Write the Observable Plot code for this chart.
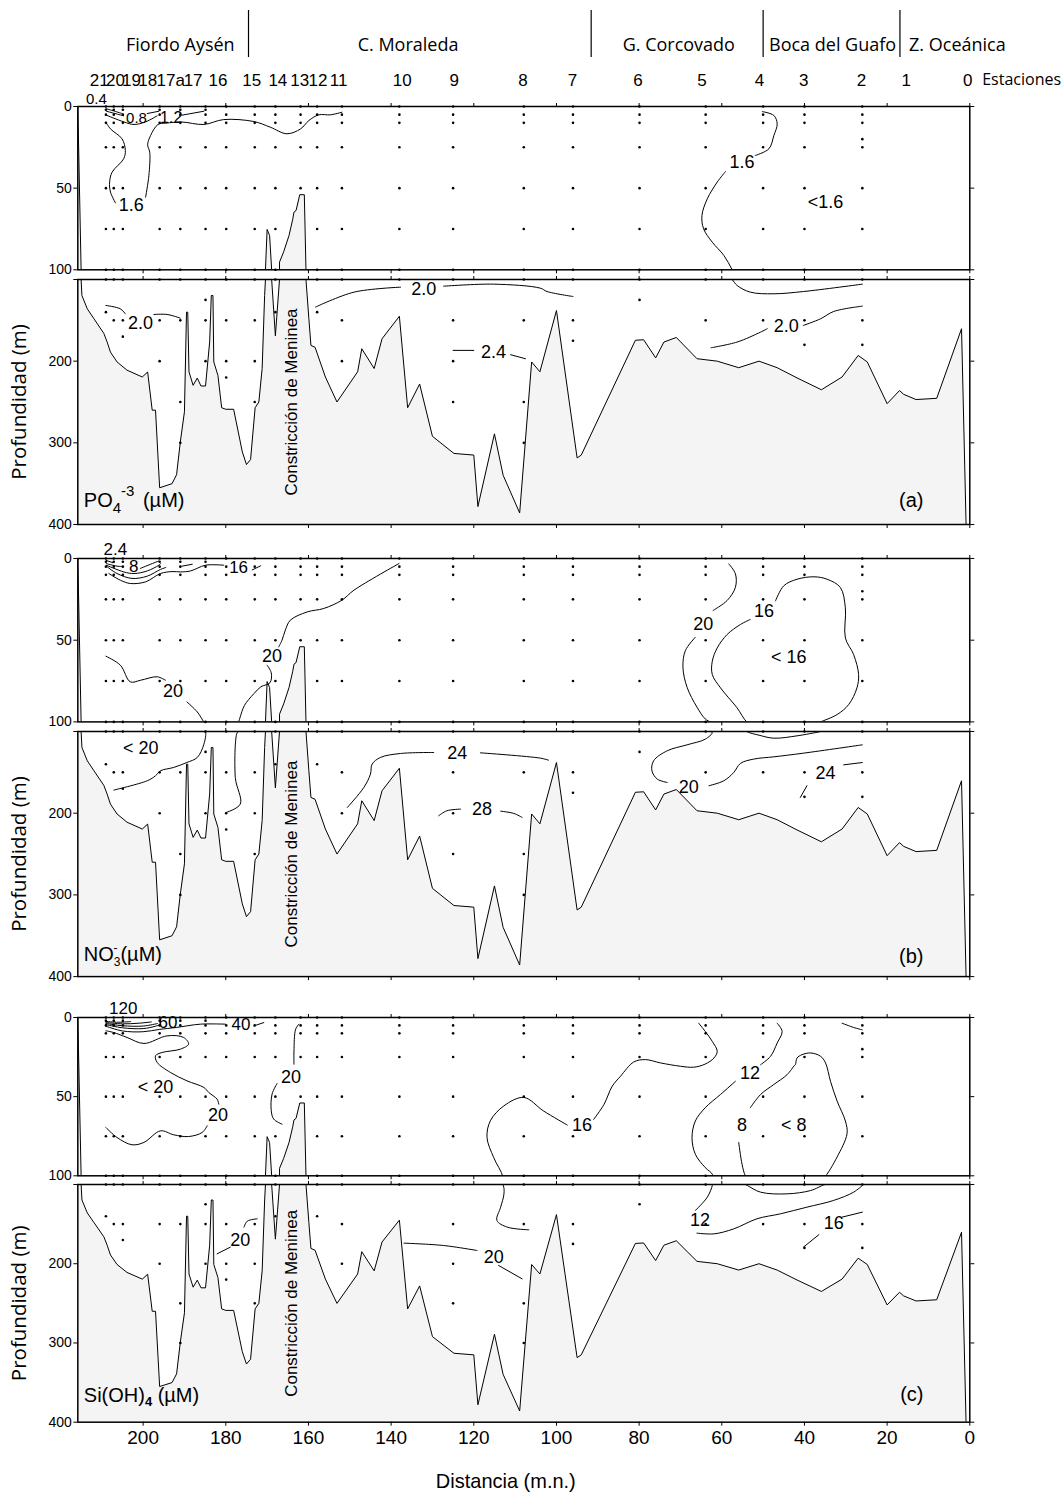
<!DOCTYPE html>
<html><head><meta charset="utf-8">
<script src="https://cdn.jsdelivr.net/npm/d3@7"></script>
<script src="https://cdn.jsdelivr.net/npm/@observablehq/plot@0.6"></script>
<style>
body{margin:0;background:#fff;}
#fig{position:relative;width:1064px;height:1497px;overflow:hidden;background:#fff;}
#fig svg{position:absolute;left:0;}
</style></head><body><div id="fig"></div>
<script>
// ---------------- DATA ----------------
const xTicks = [0,20,40,60,80,100,120,140,160,180,200];
const regionNames = ["Fiordo Aysén","C. Moraleda","G. Corcovado","Boca del Guafo","Z. Oceánica"];
const regionCenter = [191.0,135.9,70.4,33.2,3.0];
const regionBounds = [174.5,91.6,50.0,16.9];

const stationNames = ["21","20","19","18","17a","17","16","15","14","13","12","11","10","9","8","7","6","5","4","3","2","1","0"];
const stationDist = [209.0,207.1,204.9,196.0,191.0,184.9,179.9,173.0,168.0,161.9,157.9,151.9,138.0,125.0,107.9,96.0,79.9,63.9,50.0,40.0,26.0,15.4,0.5];
const stationLabelDist = [210.6,206.7,202.8,198.9,193.3,187.9,181.9,173.7,167.4,162.1,157.7,152.7,137.3,124.7,108.1,96.1,80.3,64.8,50.9,40.2,26.2,15.4,0.5];
const stationDepths = [
 [0,2,5,10,25,50,75,100,140],
 [0,2,5,10,25,50,75,100,150],
 [0,2,5,10,25,50,75,100,150,170],
 [0,2,5,10,25,50,75,100,150,200],
 [0,2,5,10,25,50,75,100,150,250,300],
 [0,2,5,10,25,50,75,100,125,150,200],
 [0,5,10,25,50,75,100,150,200,220],
 [0,5,10,25,50,75,100,150,200,250],
 [0,5,10,25,50,75,100,140],
 [0,5,10,25,50],
 [0,5,10,25,50,75,100,140],
 [0,5,10,25,50,75,100,150,200],
 [0,5,10,25,50,75,100],
 [0,5,10,25,50,75,100,150,200,250],
 [0,5,10,25,50,75,100,150,250,300],
 [0,5,10,25,50,75,100,150,175],
 [0,5,10,25,50,75,100,125],
 [0,5,10,25,50,75,100,150],
 [0,5,10,25,50,75,100,150],
 [0,5,10,25,50,75,100,150,180],
 [0,5,10,20,25,50,75,100,150,180],
 [],[]
];

// bottom profile: [distance (m.n.), depth (m)]
const bathymetry = [[215.8,0],[215.0,100],[214.8,119.6],[213.5,135.9],[211.9,148],[209.5,166],[208.7,176.6],[207.9,188.9],[206.3,201],[203.9,211],[200.2,219.4],[198.9,213.3],[197.8,260],[197.0,260],[196.0,355],[193.0,350],[191.9,339],[191.0,299],[190.0,262],[189.5,140],[189.2,140],[188.9,213],[187.9,229.6],[186.9,220.7],[186.0,230.4],[184.9,230.4],[183.9,176.6],[183.5,119.6],[183.1,119.6],[182.9,201],[181.9,217.4],[181.0,257],[180.0,258.9],[178.1,258.9],[176.0,311],[175.0,326.6],[174.0,320.5],[172.9,257],[172.0,250],[171.2,209],[170.6,119.6],[170.4,100],[170.0,75.3],[169.4,79],[168.9,100],[168.0,169],[167.0,100],[167.0,95.3],[166.0,89],[164.7,79],[163.8,69],[163.5,64.7],[163.0,63.7],[162.1,54],[161.0,54],[160.6,100],[159.9,148],[159.4,180.7],[158.4,183],[155.9,219.4],[153.1,250],[148.1,213],[147.1,184.8],[144.1,209],[142.2,172.6],[138.0,145],[136.0,257],[133.1,228],[130.0,292],[124.8,313],[120.0,315],[119.0,378],[115.0,289],[112.9,339.7],[108.9,385.8],[106.0,201],[104.0,213],[100.0,138],[95.0,318.5],[94.0,315],[80.9,174.4],[78.9,173.8],[76.0,196],[74.0,176.6],[71.0,171],[66.0,197],[61.1,200],[55.9,208],[51.0,200],[46.6,208],[41.8,220.5],[35.9,235],[30.9,219.4],[27.0,193],[24.8,201],[20.0,252],[17.0,236],[16.0,240.6],[13.0,247],[8.0,245.5],[2.0,160.3],[0.9,400]];

// (a) PO4 isolines (segments) and labels
const po4Lines = [
 [[208.9,1.4],[207,2.8],[205.1,4.3]],
 [[208.9,2.9],[206.8,4.3],[204.7,5.7]],
 [[199,4.3],[196.2,2.9]],
 [[208.9,5.3],[204.7,9.4],[202.2,11.0],[199.4,9.4],[196.6,5.7]],
 [[190.6,5.3],[185.3,2.9]],
 [[151.9,3.5],[154.7,5.1],[157.5,5.1],[159.9,8.6],[161.9,13.7],[165.2,16.7],[169.2,12.7],[173.2,9.2],[180.5,8.0],[185.3,11.0],[190.7,9.5],[194.5,10.2],[196.4,11],[198.2,17.8],[198.9,23.5],[198.4,28],[198.6,42.2],[199.4,55.5]],
 [[206.7,59],[207.9,52.4],[208.1,46.3],[207.5,40.2],[204.7,32],[204.3,26.9],[205.1,19.8],[207.9,13.7],[209,9.6]],
 [[50.2,3.1],[47.4,5.5],[46.6,10.6],[47.4,17.8],[48.6,25.9],[51.9,30]],
 [[59.1,39.8],[61.1,46.3],[63.5,56.5],[64.8,66.7],[64.4,74.9],[62.3,83.1],[59.5,91.2],[57.5,100],[56.3,107.3],[53.1,115.5],[47.4,117.5],[40.2,114.7],[26.0,105.7]],
 [[209,131.8],[205.5,135.9],[204.3,142]],
 [[197.4,142.8],[194.2,142.8],[191,147.3]],
 [[158.3,133.8],[149,115.5],[137.7,109.4]],
 [[127.3,108.2],[115.2,105.7],[103.9,110.6],[102.3,114.7],[96,120.8]],
 [[62.6,183.6],[56.3,176.6],[50.6,164.4],[49,160.3]],
 [[40.3,156.3],[36.1,148.1],[32.9,139.1],[26,132.6]],
 [[125,186.8],[120,186.8]],
 [[111.1,192.1],[107.5,197]]
];
const po4Labels = [
 [211.3,-4.3,"0.4",15],[201.6,6.9,"0.8",15],[193.2,6.9,"1.2",16],
 [202.9,60.6,"1.6",18],[55.1,34.1,"1.6",18],[34.9,58.6,"<1.6",18],
 [200.6,153.4,"2.0",18],[132.1,112.2,"2.0",18],[44.4,157.1,"2.0",18],[115.2,188.9,"2.4",18]
];

// (b) NO3 isolines and labels
const no3Lines = [
 [[208.9,1.2],[207.3,2.6]],
 [[208.9,3.1],[206.3,4.7],[204.7,4.9]],
 [[200.7,6.1],[197.4,2.7],[196.2,1.5]],
 [[208.9,4.1],[204.7,8.2],[202.2,9.2],[199,7.6],[196.2,4.1],[195.8,3.1]],
 [[208.9,4.7],[206.3,9.2],[202.7,12.2],[199,10.8],[195.8,6.7],[194.5,5.5]],
 [[190.6,4.7],[188.1,3.5]],
 [[208.3,9.2],[205.5,13.3],[203.1,15.3],[199.4,14.3],[195.8,9.2],[193,8],[190.9,8.2],[188.5,7.6],[184.9,4.1],[180.5,4.1]],
 [[173.6,7],[171.6,4.5]],
 [[209,59.8],[205.5,65.3],[203.1,75.5],[200.6,74.5],[196.6,72.4],[194.6,74.5]],
 [[189.4,87.8],[186.9,93.9],[185.3,100],[184.9,101],[185.3,115.5],[186.9,131.8],[189.4,137.9],[192.6,144],[195.8,148.1],[197,154.2],[199,160.3],[207.1,171.7]],
 [[138.1,3.1],[149,19.4],[151.9,25.5],[156.3,30.6],[160.3,32.7],[164.4,37.8],[165.6,43.9],[166.4,50],[167.2,54.1]],
 [[170,65.3],[169,70],[169.3,76],[171.5,78.5],[173.2,82.7],[175.5,90],[176.5,96.9],[176.9,100],[177.3,102],[177.7,156.3],[176.5,188.9],[179.9,199.1]],
 [[150.6,193],[146.6,168.5],[145,152.2],[144.6,140],[142.6,131.8],[137.7,126.9],[129.7,125.7]],
 [[118.4,126.1],[103.9,132.6],[101.9,135.1]],
 [[128.5,203.1],[126.5,197],[123.2,195]],
 [[113.5,197.5],[110.3,200.3],[108.3,205.2]],
 [[58.3,3.3],[56.7,9.4],[56.7,17.6],[58.7,25.7],[62.1,31.8]],
 [[66.4,48.2],[68.8,56.3],[69.4,66.5],[68.4,78.8],[66,91],[64,98.2],[62.7,100.2],[62.3,101.5],[64,109.4],[68.4,116.3],[73.2,123.6],[76.5,135.9],[76.9,148.1],[75.6,158.3],[73.2,162.4]],
 [[63.1,166.4],[59.5,160.3],[57.1,150.1],[55.5,139.1],[52.3,133.8],[47.4,131],[40.2,126.5],[26,116.3]],
 [[53.1,37.3],[55.5,40.4],[58.7,46.5],[61.1,54.7],[62.3,62.9],[62.3,71],[60.3,79.2],[56.3,91.4],[53.9,100.2],[51,104.5],[47.4,108.2],[41.8,105.3],[36.5,100.5],[36.1,100],[32.1,95.5],[29.3,89.4],[27.3,79.2],[26.9,71],[28.1,58.8],[30.1,48.6],[30.1,30.2],[31.3,17.8],[34.5,12.7],[37.7,11.2],[41.8,12.7],[45,16.7],[47,25.9]],
 [[41,180.7],[39.4,166.4]],
 [[30.5,140.8],[26,138]]
];
const no3Labels = [
 [206.7,-5.7,"2.4",17],[202.3,5,"8",17],[176.9,5.3,"16",17],
 [192.8,81,"20",18],[200.6,120.4,"< 20",18],[168.8,59.8,"20",18],
 [124,126.9,"24",18],[118,195,"28",18],[64.5,40,"20",18],[68,168.5,"20",18],
 [49.8,32.4,"16",18],[43.8,60.4,"< 16",18],[34.9,151,"24",18]
];

// (c) Si(OH)4 isolines and labels
const siLines = [
 [[209,2.5],[206,3],[203,2.6]],
 [[209,3.2],[205,4],[201,3.6],[198,2.8]],
 [[209,3.8],[205,5.2],[200,5.4],[196.5,3.8]],
 [[209,4.5],[205,6.5],[200,7],[197,5.5],[195.8,4.5]],
 [[209,5.5],[205,8.5],[200,9],[196,7.5],[192,6.3],[186.1,4.2],[180.1,4.2]],
 [[173.2,5.3],[170.8,3.2]],
 [[209,8.4],[207.1,9.5],[203.9,12.6],[199.8,16.4],[194.2,11.6],[190.2,12.6],[189,16.8],[191,20],[195.4,22.1],[197,24.2],[196.6,28.4],[193.4,34.7],[189.4,40],[185.3,44.2],[184.1,47.4],[182.1,51.6],[181.7,54.7]],
 [[184.5,68.4],[185.7,72.6],[189,75.2],[192.6,74.1],[195.8,71.6],[199.8,78.9],[202.7,80.4],[206.3,75.8],[209,69.5]],
 [[162.3,4.2],[163.1,7.4],[163.5,21.1],[163.5,29.5]],
 [[167.6,41.7],[168.8,48.4],[169,58.9],[168.4,64.2],[166.4,67.4]],
 [[172.4,143.3],[174.8,146.3],[175.6,153.8]],
 [[178.9,179.1],[182.1,187.5]],
 [[136.9,174],[127.3,177],[119.2,183.3]],
 [[114,202.2],[108.3,219.1]],
 [[106.7,157.2],[111.9,153.8],[114.4,145.4],[113.5,128.6],[112.7,111.8],[112.9,101],[115.2,88.4],[116.8,75.8],[116,65.3],[112.7,55.8],[107.9,50.5],[103.1,59.1],[97.4,67.9]],
 [[91,64.4],[88.5,54.9],[86.5,43.4],[84.5,37.1],[81.3,28.1],[78.5,26.6],[74.8,28.7],[70,30.8],[66.8,31.4],[64,29.4],[61.9,25.6],[61.1,21.4],[62.3,15.1],[64,8.8],[65.6,3.6]],
 [[46.6,3.6],[45.4,8.8],[46.6,16.1],[48.2,24.5],[50.6,29.8]],
 [[56.7,40.3],[60.3,48.6],[64,57],[66.4,65.4],[67.2,75.9],[66.4,86.4],[64,94.8],[62.3,99],[62.3,101.3],[63.5,116],[66.4,132.8]],
 [[66,161.4],[61.9,162.3],[57.1,156],[51.5,143.3],[45.8,137],[39.4,128.6],[33,120.2],[28.1,109.7],[26,101.3]],
 [[30.9,141.2],[26,134.9]],
 [[36.5,163.3],[40.2,178.9]],
 [[42.6,30.8],[44.2,36.1],[47.4,42.3],[50.6,48.6],[53.1,57]],
 [[55.9,79],[55.1,92.7],[54.3,100],[53.8,101.3],[50.6,109.7],[44.2,111.8],[38.5,107.6],[35.3,100.4],[34.9,100],[32.1,88.1],[29.7,73.4],[30.1,65.4],[32.1,52.8],[33.7,40.3],[34.9,28.7],[36.1,24.5],[38.5,22.4],[40.6,23.5],[41.8,25.6],[42.2,29.8],[42.6,30.8]],
 [[30.9,3.6],[28.1,6.3],[26,7.8]]
];
const siLabels = [
 [204.8,-5.5,"120",17],[194,3.2,"60",17],[176.3,4.2,"40",17],
 [181.9,61.5,"20",18],[197,43.8,"< 20",18],[164.2,37.5,"20",18],
 [176.5,170.7,"20",18],[115.2,191.7,"20",18],[93.8,67.9,"16",18],
 [53.2,35,"12",18],[65.3,145.4,"12",18],[55.1,67.9,"8",18],[42.6,67.9,"< 8",18],[32.9,148.4,"16",18]
];

const constriction = [164.1, 250, "Constricción de Meninea"];

// ---------------- LAYOUT ----------------
const W = 1064, ML = 77.3, MR = W - 969.3;
const xDom = [215.8, 0];
const ARIAL = "Liberation Sans, Arial, Helvetica, sans-serif";
const OPEN = "Open Sans, DejaVu Sans, sans-serif";
const NARROW = "Liberation Sans Narrow, Arial Narrow, Liberation Sans, sans-serif";
const fig = document.getElementById("fig");

const stationRows = stationDist.flatMap((x, i) => stationDepths[i].map(z => ({x, z})));
const lineRows = segs => segs.flatMap((s, i) => s.map(([x, y]) => ({x, y, seg: i})));

const baseStyle = {background: "none", overflow: "visible", fontFamily: ARIAL, fontSize: "14px", color: "black"};

function place(svg, top) { svg.style.top = top + "px"; fig.appendChild(svg); return svg; }

// header
place(Plot.plot({
  width: W, height: 100, marginLeft: ML, marginRight: MR, marginTop: 10, marginBottom: 43,
  x: {domain: xDom, axis: null}, style: baseStyle,
  marks: [
    Plot.ruleX(regionBounds, {stroke: "black", strokeWidth: 1.2}),
    Plot.text(regionNames, {x: (d, i) => regionCenter[i], frameAnchor: "bottom", dy: -6.8, fontSize: 18, fontFamily: OPEN}),
    Plot.text(stationNames, {x: (d, i) => stationLabelDist[i], frameAnchor: "bottom", dy: 28.2, fontSize: 17, fontFamily: NARROW}),
    Plot.text(["Estaciones"], {x: 0, frameAnchor: "bottom", dy: 27.9, dx: 12.4, textAnchor: "start", fontSize: 16, fontFamily: OPEN})
  ]
}), 0);

const panels = [
  {upper: [106, 269.3], lower: [279.3, 524.3], lines: po4Lines, labels: po4Labels,
   title: "PO4-3 (µM)", titleDy: -17.4, tag: "(a)", tagDy: -17.4,
   rich: [{t: "PO"}, {t: "4", dy: 6, fs: 15}, {t: "-3", dy: -17, fs: 15}, {t: " (µM)", dy: 11, dx: 3}]},
  {upper: [558.3, 721.7], lower: [730.7, 975.8], lines: no3Lines, labels: no3Labels,
   title: "NO3- (µM)", titleDy: -15.4, tag: "(b)", tagDy: -13.9,
   rich: [{t: "NO"}, {t: "3", dy: 5, fs: 12}, {t: "-", dy: -14, dx: -7, fs: 12}, {t: "(µM)", dy: 9, dx: 3}]},
  {upper: [1016.7, 1175], lower: [1184, 1421.7], lines: siLines, labels: siLabels, last: true,
   title: "Si(OH)4 (µM)", titleDy: -19.8, tag: "(c)", tagDy: -20.8,
   rich: [{t: "Si(OH)"}, {t: "4", dy: 4, fs: 13, fw: "bold"}, {t: " (µM)", dy: -4}]}
];

function richTitle(svg, plain, parts) {
  d3.select(svg).selectAll("text").filter(function() { return this.textContent === plain; }).each(function() {
    const t = d3.select(this);
    t.text(null);
    parts.forEach(p => {
      const s = t.append("tspan").text(p.t);
      if (p.dy) s.attr("dy", p.dy);
      if (p.dx) s.attr("dx", p.dx);
      if (p.fs) s.attr("font-size", p.fs);
      if (p.fw) s.attr("font-weight", p.fw);
    });
  });
}

function subpanel(p, part) {
  const isUp = part === "upper";
  const [ft, fb] = p[part];
  const padT = 40, padB = (p.last && !isUp) ? 90 : 40;
  const H = fb - ft + padT + padB;
  const keep = isUp ? (z => z <= 100) : (z => z >= 100);
  const dots = stationRows.filter(d => keep(d.z));
  const labs = p.labels.filter(d => isUp ? d[1] <= 100 : d[1] > 100);
  const yT = isUp ? [0, 50, 100] : [100, 200, 300, 400];
  const yL = isUp ? [0, 50, 100] : [200, 300, 400];
  const bottomLabels = p.last && !isUp;
  const marks = [
    Plot.areaY(bathymetry, {x: d => d[0], y1: d => d[1], y2: 400, fill: "#f4f4f4", clip: true}),
    Plot.line(lineRows(p.lines), {x: "x", y: "y", z: "seg", curve: "catmull-rom", stroke: "black", strokeWidth: 1, clip: true}),
    Plot.line(bathymetry, {x: d => d[0], y: d => d[1], stroke: "black", strokeWidth: 1, clip: true}),
    Plot.dot(dots, {x: "x", y: "z", r: 1.3, fill: "black"}),
    Plot.text(labs, {x: d => d[0], y: d => d[1], text: d => d[2], fontSize: d => d[3], fill: "black"}),
    Plot.axisX(xTicks, {anchor: "top", tickSize: 4, tickFormat: () => "", label: null}),
    Plot.axisX(xTicks, {anchor: "bottom", tickSize: 4, tickPadding: 4, label: null,
      tickFormat: bottomLabels ? (d => String(d)) : (() => ""), fontSize: 19}),
    Plot.axisY(yT, {anchor: "left", tickSize: 4, tickPadding: 2, label: null, fontSize: 14,
      tickFormat: d => yL.includes(d) ? String(d) : ""}),
    Plot.axisY(yT, {anchor: "right", tickSize: 4, tickFormat: () => "", label: null}),
    Plot.frame({stroke: "black", strokeWidth: 1.5})
  ];
  if (!isUp) {
    marks.push(
      Plot.text([constriction], {x: d => d[0], y: d => d[1], text: d => d[2], rotate: -90, fontSize: 17}),
      Plot.text(["Profundidad (m)"], {frameAnchor: "left", textAnchor: "middle", dx: -58.5, rotate: -90, fontSize: 20.5, fontFamily: OPEN}),
      Plot.text([p.title], {frameAnchor: "bottom-left", textAnchor: "start", dx: 6, dy: p.titleDy, fontSize: 20}),
      Plot.text([p.tag], {frameAnchor: "bottom-right", textAnchor: "end", dx: -46.3, dy: p.tagDy, fontSize: 20})
    );
    if (bottomLabels) {
      marks.push(Plot.text(["Distancia (m.n.)"], {frameAnchor: "bottom", dy: 66, dx: -18, fontSize: 20}));
    }
  }
  const svg = Plot.plot({
    width: W, height: H, marginLeft: ML, marginRight: MR, marginTop: padT, marginBottom: padB,
    x: {domain: xDom},
    y: {domain: isUp ? [0, 100] : [100, 400], reverse: true},
    style: baseStyle,
    marks
  });
  if (!isUp) richTitle(svg, p.title, p.rich);
  place(svg, ft - padT);
}

panels.forEach(p => { subpanel(p, "upper"); subpanel(p, "lower"); });
</script></body></html>
